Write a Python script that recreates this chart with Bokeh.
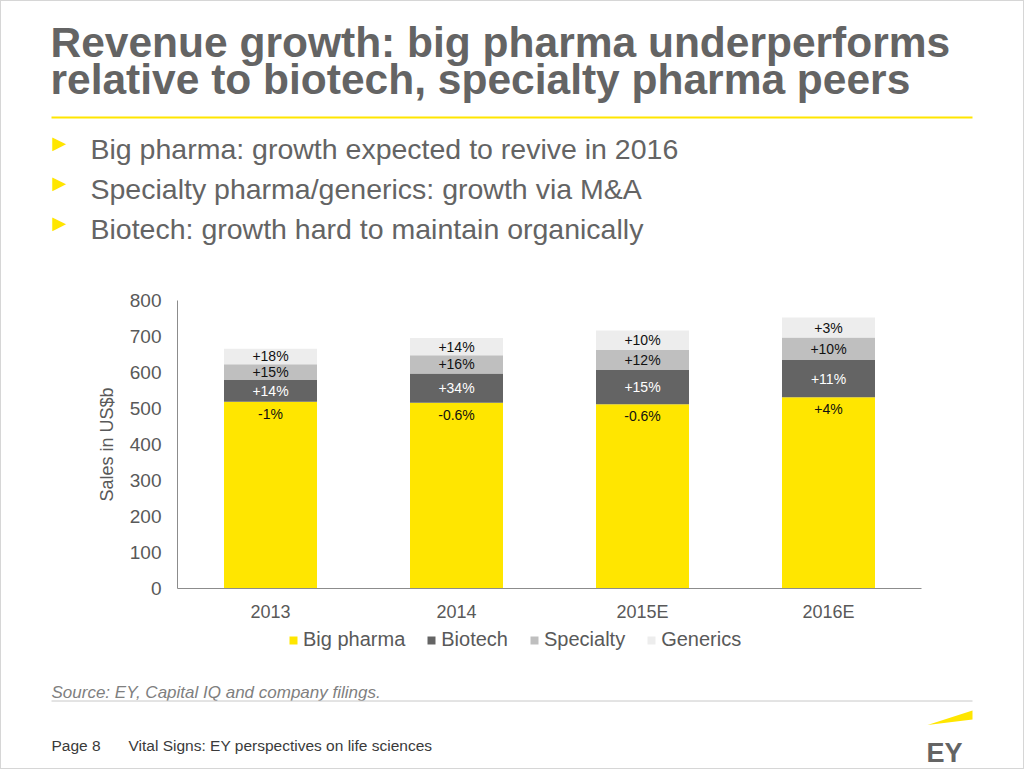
from bokeh.plotting import figure
from bokeh.layouts import column
from bokeh.models import (ColumnDataSource, Legend, LegendItem, FixedTicker, Range1d, FactorRange)
from bokeh.core.properties import value
from bokeh.embed import file_html
from bokeh.resources import INLINE

# ---------------- data ----------------
years = ["2013", "2014", "2015E", "2016E"]
big_pharma = [519, 516, 512, 531]
biotech = [60, 81, 95, 104]
specialty = [44, 51, 56, 62]
generics = [43, 48, 54, 56]

big_pharma_growth = ["-1%", "-0.6%", "-0.6%", "+4%"]
biotech_growth = ["+14%", "+34%", "+15%", "+11%"]
specialty_growth = ["+15%", "+16%", "+12%", "+10%"]
generics_growth = ["+18%", "+14%", "+10%", "+3%"]

segment_names = ["Big pharma", "Biotech", "Specialty", "Generics"]
y_ticks = [0, 100, 200, 300, 400, 500, 600, 700, 800]

title_lines = ["Revenue growth: big pharma underperforms",
               "relative to biotech, specialty pharma peers"]
bullets = ["Big pharma: growth expected to revive in 2016",
           "Specialty pharma/generics: growth via M&A",
           "Biotech: growth hard to maintain organically"]
source_note = "Source: EY, Capital IQ and company filings."
footer_page = "Page 8"
footer_text = "Vital Signs: EY perspectives on life sciences"

# ---------------- styles ----------------
COLORS = ["#FFE600", "#646464", "#BFBFBF", "#EDEDED"]
LABEL_COLORS = ["#111111", "#FFFFFF", "#111111", "#111111"]
GRAY = "#646464"
BORDER = "#D6D6D6"
FONT = "Liberation Sans"

PAD = 1              # page border width (CSS border of the column)
W = 1024
IW = W - 2 * PAD     # inner width of every strip
TOP_H = 290          # page rows 0..290   : title + bullets
CHART_BOTTOM = 625   # page rows 290..625 : chart
LEGEND_BOTTOM = 660  # page rows 625..660 : legend
H = 769              # page rows 660..769 : source, footer
FL, FR, FT, FB = 177, 921, 300, 588  # chart frame edges in page pixels


def deco_figure(y0, y1):
    f = figure(width=IW, height=y1 - y0, x_range=Range1d(PAD, W - PAD), y_range=Range1d(y1, y0),
               output_backend="svg", toolbar_location=None, tools="",
               x_axis_type=None, y_axis_type=None, frame_align=False,
               min_border=0, min_border_left=0, min_border_right=0,
               min_border_top=0, min_border_bottom=0)
    f.outline_line_color = None
    f.xgrid.visible = False
    f.ygrid.visible = False
    f.background_fill_color = "white"
    f.border_fill_color = "white"
    return f


def txt(f, x, y, text, size, color=GRAY, style="normal", font=FONT, baseline="alphabetic",
        align="left"):
    f.text(x=[x], y=[y], text=[text], text_font=value(font), text_font_size=size,
           text_font_style=style, text_color=color, text_baseline=baseline, text_align=align)


# ---------------- top: title and bullets ----------------
top = deco_figure(PAD, TOP_H)
txt(top, 50, 42, title_lines[0], "42.5px", style="bold")
txt(top, 50, 79, title_lines[1], "42.5px", style="bold")
top.segment(x0=[51], y0=[117], x1=[972], y1=[117], line_color="#FFE600", line_width=2)
for t, base in zip(bullets, [148, 188, 228]):
    txt(top, 52, base - 6.5, "\u25B6", "18px", color="#FFE600", font="DejaVu Sans", baseline="middle")
    txt(top, 90, base, t, "28.5px")

# ---------------- chart ----------------
keys = ["big", "bio", "spec", "gen"]
src = ColumnDataSource(dict(year=years, big=big_pharma, bio=biotech,
                            spec=specialty, gen=generics))

p = figure(width=IW, height=CHART_BOTTOM - TOP_H, x_range=FactorRange(*years), y_range=Range1d(0, 800),
           output_backend="svg", toolbar_location=None, tools="", frame_align=False,
           min_border_left=FL - PAD, min_border_right=W - PAD - FR,
           min_border_top=FT - TOP_H, min_border_bottom=CHART_BOTTOM - FB)
p.outline_line_color = None
p.xgrid.grid_line_color = None
p.ygrid.grid_line_color = None
p.background_fill_color = "white"
p.border_fill_color = "white"

p.vbar_stack(keys, x="year", width=0.5, color=COLORS, source=src, line_color=None)

yax = p.yaxis[0]
yax.ticker = FixedTicker(ticks=y_ticks)
yax.major_tick_line_color = None
yax.minor_tick_line_color = None
yax.major_tick_out = 0
yax.major_label_standoff = 16
yax.axis_line_color = "#8C8C8C"
yax.major_label_text_color = "#595959"
yax.major_label_text_font = FONT
yax.major_label_text_font_size = "19px"
yax.axis_label = "Sales in US$b"
yax.axis_label_text_font = FONT
yax.axis_label_text_font_style = "normal"
yax.axis_label_text_font_size = "18px"
yax.axis_label_text_color = "#595959"
yax.axis_label_standoff = 10

xax = p.xaxis[0]
xax.major_tick_line_color = None
xax.minor_tick_line_color = None
xax.major_tick_out = 0
xax.major_label_standoff = 13
xax.axis_line_color = "#8C8C8C"
xax.major_label_text_color = "#595959"
xax.major_label_text_font = FONT
xax.major_label_text_font_size = "18px"

bottoms = [[0] * 4]
for arr in [big_pharma, biotech, specialty]:
    bottoms.append([b + v for b, v in zip(bottoms[-1], arr)])
label_src = ColumnDataSource(dict(
    x=years * 4,
    y=[b + v for b, v in zip(bottoms[0], big_pharma)]
      + [b + v / 2 for b, v in zip(bottoms[1], biotech)]
      + [b + v / 2 for b, v in zip(bottoms[2], specialty)]
      + [b + v / 2 for b, v in zip(bottoms[3], generics)],
    t=big_pharma_growth + biotech_growth + specialty_growth + generics_growth,
    c=[LABEL_COLORS[0]] * 4 + [LABEL_COLORS[1]] * 4 + [LABEL_COLORS[2]] * 4 + [LABEL_COLORS[3]] * 4,
    dy=[12] * 4 + [0] * 12,
))
p.text(x="x", y="y", text="t", source=label_src, text_color="c", y_offset="dy",
       text_align="center", text_baseline="middle", text_font=value(FONT),
       text_font_size="14px")

# ---------------- legend strip (same series as hairline bars far outside its visible range) ----------------
lg = figure(width=IW, height=LEGEND_BOTTOM - CHART_BOTTOM, x_range=FactorRange(*years),
            y_range=Range1d(-100000, -99999), output_backend="svg", toolbar_location=None, tools="",
            x_axis_type=None, y_axis_type=None, frame_align=False,
            min_border=0, min_border_left=0, min_border_right=0,
            min_border_top=0, min_border_bottom=0)
lg.outline_line_color = None
lg.xgrid.visible = False
lg.ygrid.visible = False
lg.background_fill_color = "white"
lg.border_fill_color = "white"
leg_renderers = lg.vbar_stack(keys, x="year", width=0.0001, color=COLORS, source=src, line_color=None)
legend = Legend(items=[LegendItem(label=n, renderers=[r]) for n, r in zip(segment_names, leg_renderers)],
                orientation="horizontal", location=(288 - PAD, LEGEND_BOTTOM - 651),
                glyph_width=10, glyph_height=10, label_standoff=5, spacing=21,
                padding=0, margin=0, border_line_color=None, background_fill_alpha=0,
                label_text_font=FONT, label_text_font_size="20px",
                label_text_color="#595959", label_height=20)
lg.add_layout(legend)

# ---------------- bottom: source, footer ----------------
bot = deco_figure(LEGEND_BOTTOM, H - PAD)
txt(bot, 51, 692, source_note, "17px", color="#7F7F7F", style="italic")
bot.segment(x0=[51], y0=[700.5], x1=[972], y1=[700.5], line_color="#C8C8C8", line_width=1)
txt(bot, 51, 745, footer_page, "15.5px", color="#3A3A3A")
txt(bot, 128, 745, footer_text, "15.5px", color="#3A3A3A")
bot.patch(x=[927, 972, 972], y=[724.5, 710, 719], fill_color="#FFE600", line_color=None)
txt(bot, 926, 752, "EY", "27px", color=GRAY, style="bold")

layout = column(top, p, lg, bot, spacing=0,
                styles={"background-color": "white", "border": "%dpx solid %s" % (PAD, BORDER)})
open("out.html", "w").write(file_html(layout, INLINE))
